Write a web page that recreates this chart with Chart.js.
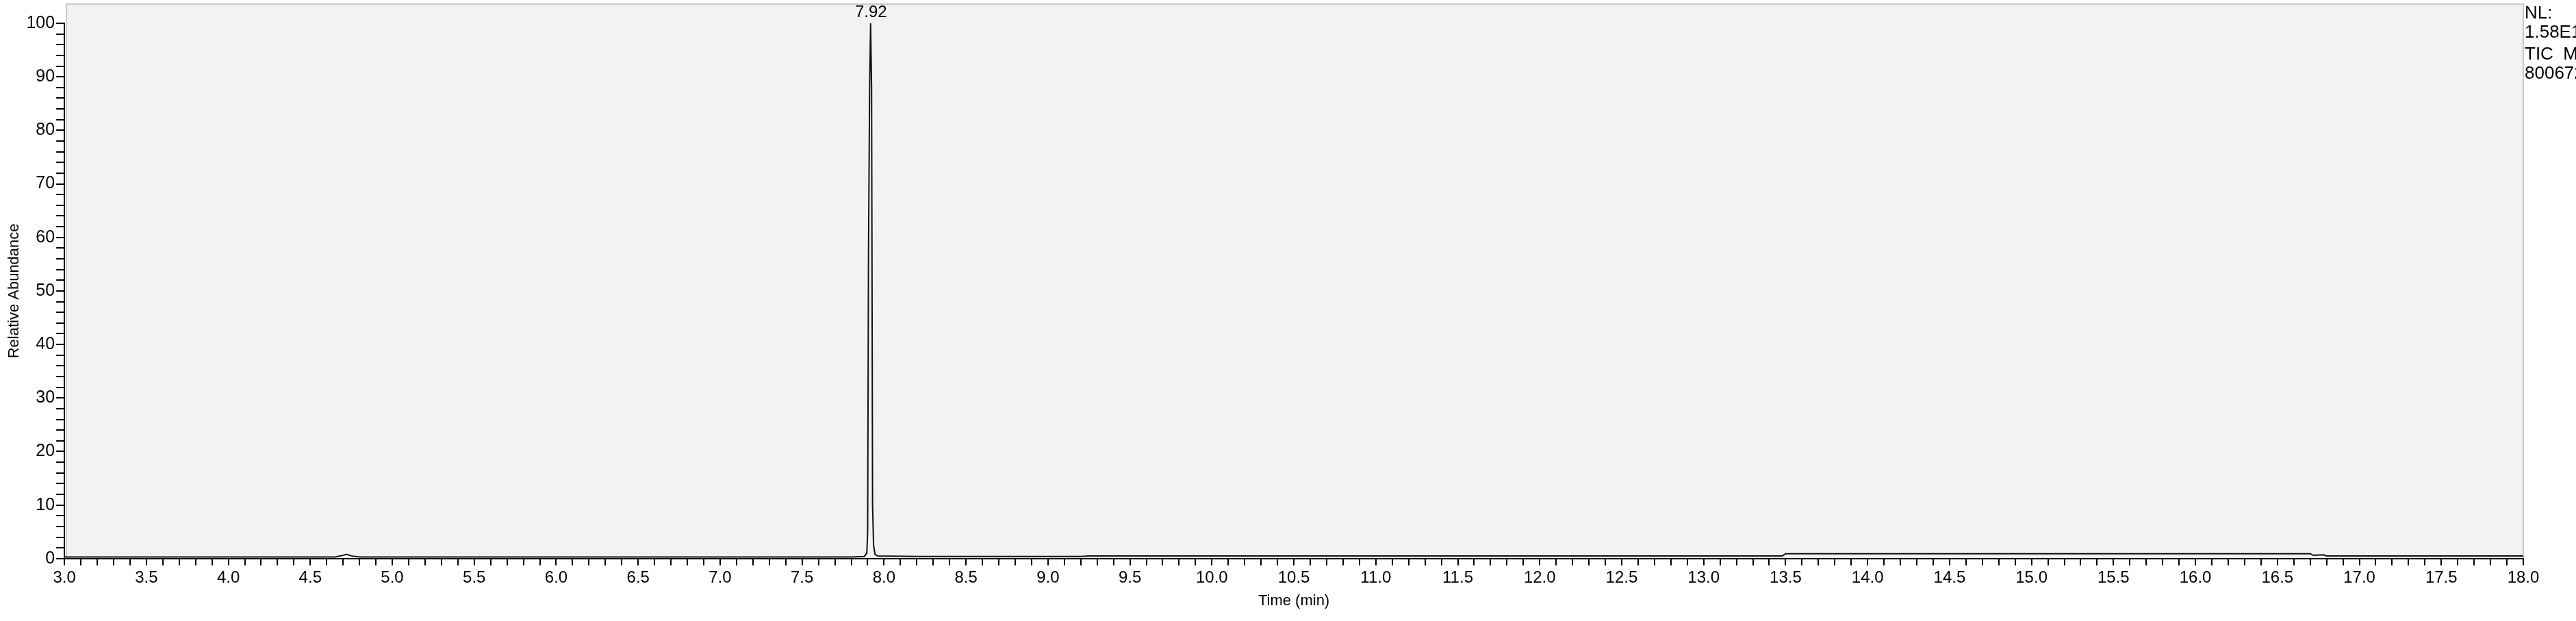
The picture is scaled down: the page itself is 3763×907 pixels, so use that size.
<!DOCTYPE html>
<html><head><meta charset="utf-8">
<script src="https://cdn.jsdelivr.net/npm/chart.js@4"></script>
<style>html,body{margin:0;padding:0;background:#fff;}#wrap{position:relative;width:3763px;height:907px;}
.rt{position:absolute;left:3688px;font:26px "Liberation Sans",Arial,sans-serif;color:#000;line-height:28px;white-space:nowrap;}</style>
</head><body><div id="wrap"><canvas id="c" width="3763" height="907"></canvas>
<div class="rt" style="top:4px">NL:<br>1.58E10</div>
<div class="rt" style="top:64px">TIC&nbsp; MS<br>8006725</div></div>
<script>
const times = [3.0,4.0,4.65,4.70,4.72,4.75,4.80,6.0,7.80,7.88,7.895,7.900,7.905,7.912,7.918,7.924,7.930,7.936,7.945,7.96,8.2,9.2,9.25,10.0,12.0,13.48,13.50,15.0,16.70,16.72,16.78,16.80,17.5,18.0];
const abundance = [0.3,0.3,0.3,0.6,0.8,0.5,0.3,0.3,0.3,0.4,1.0,5.0,56,88,100,88,10,2.5,0.8,0.5,0.4,0.4,0.5,0.5,0.5,0.5,0.9,0.9,0.9,0.6,0.7,0.5,0.5,0.5];
const peakLabels = [{t:7.92, y:100, text:"7.92"}];
const F = '"Liberation Sans",Arial,sans-serif';
const bg = {id:'bg',beforeDraw(ch){const a=ch.chartArea,c=ch.ctx;c.save();c.fillStyle='#f2f2f2';c.fillRect(a.left+3,6,a.right-a.left-3,a.bottom-6);c.strokeStyle='#c8c8c8';c.lineWidth=2;c.strokeRect(a.left+3,6,a.right-a.left-3,a.bottom-6);c.restore();},
 afterDatasetsDraw(ch){const c=ch.ctx,x=ch.scales.x,y=ch.scales.y;c.save();c.font='24px '+F;c.fillStyle='#000';c.textAlign='center';c.textBaseline='bottom';peakLabels.forEach(p=>c.fillText(p.text,x.getPixelForValue(p.t),y.getPixelForValue(p.y)-4));c.restore();}};
new Chart(document.getElementById('c'),{type:'line',
data:{datasets:[{data:times.map((t,i)=>({x:t,y:abundance[i]})),borderColor:'#111',borderWidth:2,pointRadius:0,tension:0,fill:false}]},
options:{responsive:false,animation:false,events:[],layout:{padding:{top:34,right:77,left:4,bottom:12}},
plugins:{legend:{display:false},tooltip:{enabled:false}},
scales:{x:{type:'linear',min:3,max:18,border:{color:'#000',width:2},
 grid:{drawOnChartArea:false,color:'#000',lineWidth:2,tickLength:10},
 ticks:{stepSize:0.1,autoSkip:false,maxRotation:0,color:'#000',font:{size:24,family:F},padding:4,
  callback:v=>{const r=Math.round(v*10);return r%5===0?(r/10).toFixed(1):'';}},
 title:{display:true,text:'Time (min)',color:'#000',font:{size:22,family:F},padding:{top:2}}},
y:{min:0,max:100,border:{color:'#000',width:2},
 grid:{drawOnChartArea:false,color:'#000',lineWidth:2,tickLength:12},
 ticks:{stepSize:2,autoSkip:false,color:'#000',font:{size:25,family:F},padding:2,
  callback:v=>v%10===0?String(v):''},
 title:{display:true,text:'Relative Abundance',color:'#000',font:{size:22,family:F},padding:{bottom:2}}}}},
plugins:[bg]});
</script></body></html>
